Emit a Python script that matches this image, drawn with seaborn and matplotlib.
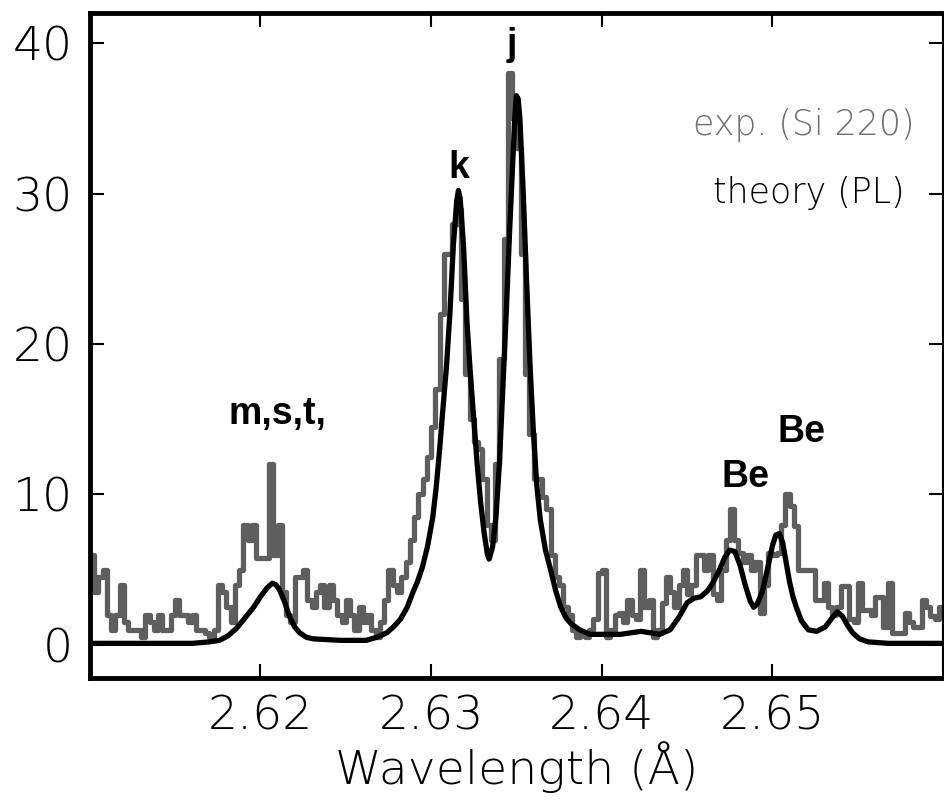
import numpy as np
import pandas as pd
import seaborn as sns
import matplotlib.pyplot as plt

# experimental spectrum (Si 220): counts per bin, bins of 0.25 mA starting at 2.610 A
bin_start = 2.610
bin_width = 0.00025
exp_counts = [
    6, 3.5, 4.5, 5, 2, 1, 2, 4, 1.5, 1,
    1, 1, 0.5, 2, 1.5, 1, 2, 1, 1, 2,
    3, 2, 2, 1.5, 2, 1, 1, 0.8, 0.5, 1,
    4, 3.5, 2.5, 1.5, 4, 5, 8, 7, 8, 5.8,
    5.8, 5.8, 12, 6, 8, 3.5, 2, 1.5, 4.5, 4.5,
    5, 3, 2.5, 3.5, 4, 2.5, 4, 3, 2, 1.5,
    3, 2, 1, 2.5, 1.5, 2, 1, 0.5, 1.5, 3,
    5, 4, 3.5, 4.5, 5.5, 7, 8.5, 10, 11, 12.5,
    14.5, 17, 22, 26, 26, 28, 29, 23, 18, 15,
    13.5, 13, 11, 8, 7, 12, 19, 27, 38, 35,
    33, 26, 18, 14, 11, 11, 9.8, 9, 6, 4.5,
    4, 2.5, 2, 1, 0.5, 0.8, 0.5, 1, 1.7, 4.8,
    5, 0.5, 1, 2, 2.1, 1.5, 3, 2, 1.7, 5,
    2.5, 3, 0.5, 1, 2.8, 4.5, 3.5, 2.5, 4, 5,
    3.4, 4, 6, 6, 5, 6, 3.4, 3, 5, 7,
    9, 7, 6.1, 5.5, 6, 5, 5.5, 2.1, 4, 6.1,
    6, 6.1, 8, 10, 9.2, 7.9, 5, 5, 5, 5,
    3, 3, 4.1, 2.5, 2, 2.5, 3.9, 3.9, 1.7, 1.5,
    4.1, 2.3, 2.3, 2, 3.2, 3.2, 1.2, 4.1, 0.8, 0.8,
    0.8, 2.1, 1.5, 1.2, 1.2, 3, 2.5, 1.9, 1.7, 2.5,
]

# theory (PL) profile
theory_wl = [
    2.6100, 2.6160, 2.6170, 2.6176, 2.6181, 2.6186, 2.6191, 2.6196, 2.6200,
    2.6204, 2.6207, 2.6209, 2.6211, 2.6214, 2.6217, 2.6220, 2.6223, 2.6227,
    2.6231, 2.6247, 2.6262, 2.6268, 2.6274, 2.6278, 2.6282, 2.6286, 2.6289,
    2.6292, 2.6295, 2.6298, 2.6301, 2.6303, 2.6305, 2.6307, 2.6309, 2.6311,
    2.6313, 2.6315, 2.6316, 2.6317, 2.6319, 2.6321, 2.6323, 2.6325, 2.6327,
    2.6329, 2.6331, 2.6333, 2.6334, 2.6336, 2.6338, 2.6340, 2.6342, 2.6344,
    2.6346, 2.6348, 2.6349, 2.6350, 2.6351, 2.6352, 2.6354, 2.6356, 2.6358,
    2.6360, 2.6362, 2.6364, 2.6367, 2.6370, 2.6373, 2.6376, 2.6379, 2.6382,
    2.6387, 2.6393, 2.6411, 2.6423, 2.6434, 2.6440, 2.6445, 2.6450, 2.6454,
    2.6458, 2.6462, 2.6465, 2.6469, 2.6472, 2.6475, 2.6478, 2.6481, 2.6484,
    2.6487, 2.6489, 2.6491, 2.6494, 2.6497, 2.6500, 2.6502, 2.6504, 2.6506,
    2.6508, 2.6510, 2.6512, 2.6514, 2.6517, 2.6521, 2.6526, 2.6531, 2.6535,
    2.6538, 2.6541, 2.6544, 2.6547, 2.6551, 2.6556, 2.6568, 2.6600,
]
theory_int = [
    0.1, 0.1, 0.2, 0.3, 0.6, 1.1, 1.8, 2.5, 3.2,
    3.8, 4.1, 4.0, 3.7, 2.9, 1.9, 1.2, 0.8, 0.5,
    0.4, 0.3, 0.3, 0.5, 0.8, 1.2, 1.7, 2.5, 3.4,
    4.2, 5.2, 6.6, 8.5, 10.5, 13, 15.8, 18.5, 22,
    26.5, 29.5, 30.2, 29.7, 26.5, 21.5, 18, 15, 12,
    9.5, 7.5, 6.0, 5.7, 6.5, 8.5, 12, 17, 22,
    27.5, 32.5, 35, 36.5, 36.3, 35, 30, 24, 18.5,
    14, 10.5, 8.3, 6.3, 5, 3.6, 2.5, 1.8, 1.4,
    1.0, 0.7, 0.7, 0.9, 0.7, 1.0, 1.8, 2.8, 3.1,
    3.2, 3.6, 4.1, 5.0, 5.8, 6.3, 6.2, 5.3, 4.0,
    2.9, 2.5, 2.7, 3.5, 5.0, 6.6, 7.3, 7.4, 6.8,
    5.5, 4.2, 3.2, 2.5, 1.6, 1.0, 0.9, 1.2, 1.8,
    2.2, 1.9, 1.3, 0.8, 0.4, 0.2, 0.1, 0.1,
]

# line identifications
line_labels = ["m,s,t,", "k", "j", "Be", "Be"]
label_wl = [2.6210, 2.6316, 2.6347, 2.6484, 2.6517]
label_y = [14.7, 31.0, 39.2, 10.5, 13.5]

xticks = [2.62, 2.63, 2.64, 2.65]
yticks = [0, 10, 20, 30, 40]

sns.set_style("ticks")
plt.rcParams["font.family"] = ["DejaVu Sans"]
plt.rcParams["text.color"] = "black"
plt.rcParams["axes.labelcolor"] = "black"
plt.rcParams["xtick.color"] = "black"
plt.rcParams["ytick.color"] = "black"
plt.rcParams["axes.edgecolor"] = "black"

exp = pd.DataFrame({
    "wavelength": bin_start + bin_width * (np.arange(len(exp_counts)) + 0.5),
    "counts": exp_counts,
})
theory = pd.DataFrame({"wavelength": theory_wl, "intensity": theory_int})

fig = plt.figure(figsize=(9.45, 8.1), dpi=100)
ax = fig.add_axes([0.095, 0.163, 0.903, 0.821])

sns.lineplot(data=exp, x="wavelength", y="counts", drawstyle="steps-mid",
             color="#5e5e5e", lw=3.8, ax=ax)
sns.lineplot(data=theory, x="wavelength", y="intensity", color="black",
             lw=3.8, ax=ax)

ax.set_xlim(2.610, 2.660)
ax.set_ylim(-2.2, 42)
ax.set_xticks(xticks)
ax.set_xticklabels([f"{t:.2f}" for t in xticks])
ax.set_yticks(yticks)
ax.tick_params(direction="in", length=10, width=1.5, top=True, right=True,
               labelsize=34, pad=12)
for lab in ax.get_xticklabels() + ax.get_yticklabels():
    lab.set_fontweight("light")
ax.set_xlabel("Wavelength (Å)", fontsize=34, labelpad=2, fontweight="light")
ax.set_ylabel("")

for side in ["left", "bottom", "top"]:
    ax.spines[side].set_linewidth(3.5)
ax.spines["right"].set_linewidth(1.5)

ax.text(0.967, 0.832, "exp. (Si 220)", transform=ax.transAxes, ha="right",
        va="center", color="#707070", fontsize=25, fontweight="light")
ax.text(0.955, 0.729, "theory (PL)", transform=ax.transAxes, ha="right",
        va="center", color="black", fontsize=25, fontweight="light")

for lab, wl, y in zip(line_labels, label_wl, label_y):
    ax.text(wl, y, lab, ha="center", va="baseline", fontsize=27,
            fontweight="bold", color="black", family="Liberation Sans")

fig.savefig("out.png", dpi=100)
